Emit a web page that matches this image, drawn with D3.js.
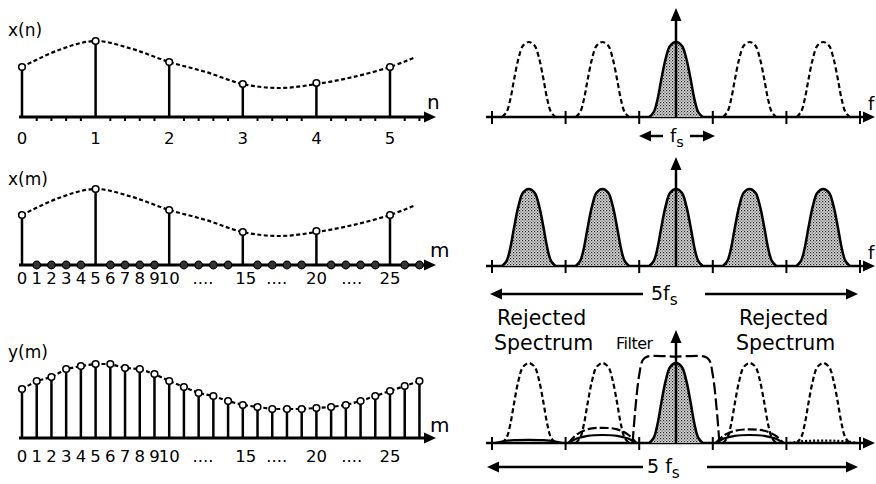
<!DOCTYPE html>
<html lang="en">
<head>
<meta charset="UTF-8">
<title>Interpolation</title>
<style>
  body { margin: 0; background: #fff; }
  text { font-family: "DejaVu Sans", sans-serif; fill: #000; }
</style>
</head>
<body>
<script src="https://d3js.org/d3.v7.min.js"></script>
<script>
// ---- left side data (time domain) ----
const nIdx = [0, 1, 2, 3, 4, 5];
const xnVals = [50, 76, 55, 33, 34, 50];
const envN = [0, 0.5, 1, 1.5, 2, 2.5, 3, 3.5, 4, 4.5, 5, 5.35];
const envVals = [50, 67, 76, 68, 55, 45, 33, 29, 33, 40, 50, 60];
const ymVals = [49, 57, 61, 69, 72, 74, 74, 70, 69, 64, 57, 51, 45, 42, 37, 33, 31, 29, 29, 29, 30, 31, 33, 37, 42, 47, 52, 57];
const nLabels = ["0", "1", "2", "3", "4", "5"];
const mLabelPos = [0, 1, 2, 3, 4, 5, 6, 7, 8, 9, 10, 12.3, 15.2, 17.3, 20, 22.4, 25];
const mLabels = ["0", "1", "2", "3", "4", "5", "6", "7", "8", "9", "10", "....", "15", "....", "20", "....", "25"];

// ---- right side data (spectra, in units of fs) ----
const lobeCenters = [-2, -1, 0, 1, 2];
const lobeShapeX = [-0.36, -0.3, -0.25, -0.2, -0.14, -0.08, 0, 0.08, 0.14, 0.2, 0.25, 0.3, 0.36];
const lobeShapeY = [0, 0.07, 0.24, 0.5, 0.78, 0.95, 1, 0.95, 0.78, 0.5, 0.24, 0.07, 0];
const fTicks = [-2.5, -1.5, -0.5, 0.5, 1.5, 2.5];
const filterX = [-0.59, -0.55, -0.5, -0.45, -0.39, 0, 0.39, 0.45, 0.5, 0.55, 0.59];
const filterY = [0, 0.45, 0.85, 1.04, 1.08, 1.08, 1.08, 1.04, 0.85, 0.45, 0];
const residCenters = [-2, -1, 1, 2];
const residDashed = [0, 0.19, 0.17, 0];
const residSolid = [0.04, 0.1, 0.1, 0];
const residDotted = [0, 0, 0, 0.03];
const bumpX = [-0.46, -0.35, -0.2, 0, 0.2, 0.35, 0.46];
const bumpY = [0, 0.55, 0.9, 1, 0.9, 0.55, 0];

const W = 876, H = 484;
const svg = d3.select("body").append("svg").attr("width", W).attr("height", H);

// stipple fill
const pat = svg.append("defs").append("pattern")
    .attr("id", "stip").attr("width", 3).attr("height", 3)
    .attr("patternUnits", "userSpaceOnUse");
pat.append("rect").attr("width", 3).attr("height", 3).attr("fill", "#d8d8d8");
pat.append("rect").attr("width", 1.2).attr("height", 1.2).attr("fill", "#222");
pat.append("rect").attr("x", 1.5).attr("y", 1.5).attr("width", 1.2).attr("height", 1.2).attr("fill", "#555");

function arrowHead(g, x, y, dir) {
    // dir: "r", "l", "u"
    let p;
    if (dir === "r") p = [[x, y], [x - 12, y - 5.5], [x - 12, y + 5.5]];
    else if (dir === "l") p = [[x, y], [x + 12, y - 5.5], [x + 12, y + 5.5]];
    else p = [[x, y], [x - 5.5, y + 13], [x + 5.5, y + 13]];
    g.append("path").attr("d", d3.line()(p) + "Z").attr("fill", "#000");
}

// ================= left panels =================
const xm = d3.scaleLinear().domain([0, 25]).range([22, 390]);
const axL0 = 19, axL1 = 436;

function leftPanel(axisY, name, nameY, unit, unitY) {
    const g = svg.append("g");
    const y = d3.scaleLinear().domain([0, 80]).range([axisY, axisY - 80]);
    g.append("line").attr("x1", axL0).attr("x2", axL1 - 8).attr("y1", axisY).attr("y2", axisY)
        .attr("stroke", "#000").attr("stroke-width", 3);
    arrowHead(g, axL1, axisY, "r");
    g.append("text").attr("x", 8).attr("y", nameY).attr("font-size", 17).text(name);
    g.append("text").attr("x", unit === "n" ? 427 : 430).attr("y", unitY).attr("font-size", 20).text(unit);
    return { g, y };
}

// panel 1: x(n)
{
    const axisY = 117;
    const { g, y } = leftPanel(axisY, "x(n)", 36, "n", 109);
    const xn = d => xm(d * 5);
    g.selectAll(".mt").data(d3.range(28).filter(m => m % 5 !== 0)).enter().append("line")
        .attr("x1", d => xm(d)).attr("x2", d => xm(d)).attr("y1", axisY).attr("y2", axisY + 4)
        .attr("stroke", "#000").attr("stroke-width", 2);
    g.append("path").datum(envN.map((n, i) => [xn(n), y(envVals[i])]))
        .attr("d", d3.line().curve(d3.curveCatmullRom))
        .attr("fill", "none").attr("stroke", "#000").attr("stroke-width", 2.2).attr("stroke-dasharray", "4,2.5");
    g.selectAll(".stem").data(nIdx).enter().append("line")
        .attr("x1", d => xn(d)).attr("x2", d => xn(d)).attr("y1", axisY).attr("y2", (d, i) => y(xnVals[i]))
        .attr("stroke", "#000").attr("stroke-width", 2.5);
    g.selectAll(".pt").data(nIdx).enter().append("circle")
        .attr("cx", d => xn(d)).attr("cy", (d, i) => y(xnVals[i])).attr("r", 3.3)
        .attr("fill", "#fff").attr("stroke", "#000").attr("stroke-width", 1.6);
    g.selectAll(".lab").data(nIdx).enter().append("text")
        .attr("x", d => xn(d)).attr("y", 144).attr("text-anchor", "middle").attr("font-size", 16.5)
        .text((d, i) => nLabels[i]);
}

// panel 2: x(m) zero stuffed
{
    const axisY = 265;
    const { g, y } = leftPanel(axisY, "x(m)", 185, "m", 257);
    g.append("path").datum(envN.map((n, i) => [xm(n * 5), y(envVals[i])]))
        .attr("d", d3.line().curve(d3.curveCatmullRom))
        .attr("fill", "none").attr("stroke", "#000").attr("stroke-width", 2.2).attr("stroke-dasharray", "4,2.5");
    g.selectAll(".stem").data(nIdx).enter().append("line")
        .attr("x1", d => xm(d * 5)).attr("x2", d => xm(d * 5)).attr("y1", axisY).attr("y2", (d, i) => y(xnVals[i]))
        .attr("stroke", "#000").attr("stroke-width", 2.5);
    g.selectAll(".zero").data(d3.range(28).filter(m => m % 5 !== 0)).enter().append("circle")
        .attr("cx", d => xm(d)).attr("cy", axisY).attr("r", 3.8)
        .attr("fill", "#333").attr("stroke", "#000").attr("stroke-width", 1.2);
    g.selectAll(".pt").data(nIdx).enter().append("circle")
        .attr("cx", d => xm(d * 5)).attr("cy", (d, i) => y(xnVals[i])).attr("r", 3.3)
        .attr("fill", "#fff").attr("stroke", "#000").attr("stroke-width", 1.6);
    g.selectAll(".lab").data(mLabelPos).enter().append("text")
        .attr("x", d => xm(d)).attr("y", 284).attr("text-anchor", "middle").attr("font-size", 16.5)
        .text((d, i) => mLabels[i]);
}

// panel 3: y(m) interpolated
{
    const axisY = 438;
    const { g, y } = leftPanel(axisY, "y(m)", 358, "m", 432);
    const pts = ymVals.map((v, i) => [xm(i), y(v)]);
    g.append("path").datum(pts).attr("d", d3.line())
        .attr("fill", "none").attr("stroke", "#000").attr("stroke-width", 2.2).attr("stroke-dasharray", "4,2.5");
    g.selectAll(".stem").data(ymVals).enter().append("line")
        .attr("x1", (d, i) => xm(i)).attr("x2", (d, i) => xm(i)).attr("y1", axisY).attr("y2", d => y(d))
        .attr("stroke", "#000").attr("stroke-width", 2.5);
    g.selectAll(".pt").data(ymVals).enter().append("circle")
        .attr("cx", (d, i) => xm(i)).attr("cy", d => y(d)).attr("r", 3.3)
        .attr("fill", "#fff").attr("stroke", "#000").attr("stroke-width", 1.6);
    g.selectAll(".lab").data(mLabelPos).enter().append("text")
        .attr("x", d => xm(d)).attr("y", 462).attr("text-anchor", "middle").attr("font-size", 16.5)
        .text((d, i) => mLabels[i]);
}

// ================= right panels =================
const xf = d3.scaleLinear().domain([-2.5, 2.5]).range([492, 860]);
const cx = xf(0);

function rightPanel(axisY, topY, lobeH) {
    const g = svg.append("g");
    const y = d3.scaleLinear().domain([0, 1]).range([axisY, axisY - lobeH]);
    g.append("line").attr("x1", 486).attr("x2", 866).attr("y1", axisY).attr("y2", axisY)
        .attr("stroke", "#000").attr("stroke-width", 2.5);
    arrowHead(g, 875, axisY, "r");
    g.selectAll(".tk").data(fTicks).enter().append("line")
        .attr("x1", d => xf(d)).attr("x2", d => xf(d)).attr("y1", axisY - 6).attr("y2", axisY + 7)
        .attr("stroke", "#000").attr("stroke-width", 2);
    return { g, y, axisY, topY };
}

function lobePath(c, y, shapeX, shapeY, scale) {
    const s = scale === undefined ? 1 : scale;
    return d3.line().curve(d3.curveCatmullRom)(shapeX.map((sx, i) => [xf(c + sx), y(shapeY[i] * s)]));
}

function drawLobes(p, dashedFn) {
    lobeCenters.forEach(c => {
        const dashed = dashedFn(c);
        p.g.append("path").attr("d", lobePath(c, p.y, lobeShapeX, lobeShapeY))
            .attr("fill", dashed ? "none" : "url(#stip)")
            .attr("stroke", "#000").attr("stroke-width", dashed ? 2.2 : 2.5)
            .attr("stroke-dasharray", dashed ? "5,3" : null);
    });
}

function vArrow(p) {
    p.g.append("line").attr("x1", cx).attr("x2", cx).attr("y1", p.axisY).attr("y2", p.topY + 8)
        .attr("stroke", "#000").attr("stroke-width", 2.5);
    arrowHead(p.g, cx, p.topY, "u");
}

function spanArrow(g, yy, x0, x1, gap0, gap1, prefix, textX, fs) {
    g.append("line").attr("x1", x0 + 8).attr("x2", gap0).attr("y1", yy).attr("y2", yy).attr("stroke", "#000").attr("stroke-width", 2.5);
    arrowHead(g, x0, yy, "l");
    g.append("line").attr("x1", gap1).attr("x2", x1 - 8).attr("y1", yy).attr("y2", yy).attr("stroke", "#000").attr("stroke-width", 2.5);
    arrowHead(g, x1, yy, "r");
    const t = g.append("text").attr("x", textX).attr("y", yy + 6).attr("font-size", fs);
    t.append("tspan").text(prefix + "f");
    t.append("tspan").attr("font-size", fs * 0.8).attr("dy", 5).text("s");
}

// R1: original spectrum
{
    const p = rightPanel(117, 8, 75);
    drawLobes(p, c => c !== 0);
    vArrow(p);
    p.g.append("text").attr("x", 868).attr("y", 110).attr("font-size", 18).text("f");
    spanArrow(p.g, 136, 639, 715, 663, 690, "", 670, 18);
}

// R2: spectrum after zero stuffing
{
    const p = rightPanel(266, 157, 77);
    drawLobes(p, c => false);
    vArrow(p);
    p.g.append("text").attr("x", 868).attr("y", 259).attr("font-size", 18).text("f");
    spanArrow(p.g, 294, 490, 858, 643, 705, "5", 651, 19);
}

// R3: after low-pass filter
{
    const p = rightPanel(443, 330, 80);
    drawLobes(p, c => c !== 0);
    residCenters.forEach((c, i) => {
        if (residDashed[i] > 0)
            p.g.append("path").attr("d", lobePath(c, p.y, bumpX, bumpY, residDashed[i]))
                .attr("fill", "none").attr("stroke", "#000").attr("stroke-width", 2.2).attr("stroke-dasharray", "9,3");
        if (residSolid[i] > 0)
            p.g.append("path").attr("d", lobePath(c, p.y, bumpX, bumpY, residSolid[i]))
                .attr("fill", "none").attr("stroke", "#000").attr("stroke-width", 2.2);
        if (residDotted[i] > 0)
            p.g.append("path").attr("d", lobePath(c, p.y, bumpX, bumpY, residDotted[i]))
                .attr("fill", "none").attr("stroke", "#000").attr("stroke-width", 2.2).attr("stroke-dasharray", "2,2");
    });
    vArrow(p);
    p.g.append("path").attr("d", d3.line().curve(d3.curveCatmullRom)(filterX.map((fx, i) => [xf(fx), p.y(filterY[i])])))
        .attr("fill", "none").attr("stroke", "#000").attr("stroke-width", 2.2).attr("stroke-dasharray", "12,4");
    p.g.append("text").attr("x", 616).attr("y", 349).attr("font-size", 16).attr("letter-spacing", -0.5).text("Filter");
    [["Rejected", 497, 325], ["Spectrum", 494, 350], ["Rejected", 739, 325], ["Spectrum", 736, 350]].forEach(d => {
        p.g.append("text").attr("x", d[1]).attr("y", d[2]).attr("font-size", 20.5).text(d[0]);
    });
    spanArrow(p.g, 467, 487, 858, 643, 707, "5 ", 647, 19);
}
</script>
</body>
</html>
